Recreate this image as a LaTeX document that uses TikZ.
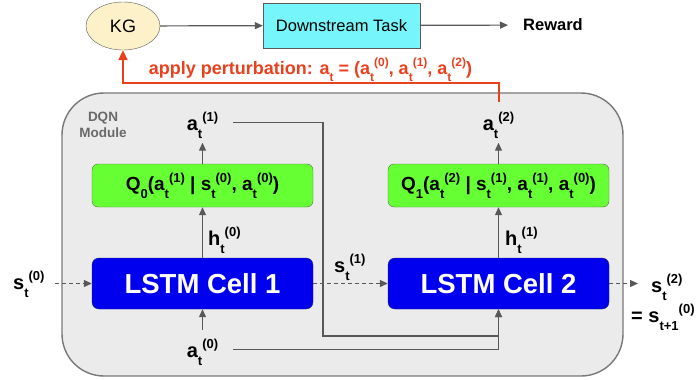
\documentclass[tikz,border=0pt]{standalone}
\usepackage{fontspec}
\setmainfont{Liberation Sans}
\usetikzlibrary{shapes.geometric,arrows.meta,positioning}

\definecolor{kgfill}{RGB}{252,241,200}
\definecolor{taskfill}{RGB}{118,246,250}
\definecolor{qfill}{RGB}{102,255,51}
\definecolor{qborder}{RGB}{85,110,75}
\definecolor{lstmfill}{RGB}{0,0,238}
\definecolor{lstmborder}{RGB}{30,30,110}
\definecolor{boxfill}{RGB}{235,235,235}
\definecolor{boxborder}{RGB}{120,120,120}
\definecolor{linegray}{RGB}{90,90,90}
\definecolor{arrowgray}{RGB}{88,88,88}
\definecolor{modulegray}{RGB}{105,105,105}
\definecolor{pertred}{RGB}{234,64,30}

\newcommand{\varlab}[4][13]{#2\raisebox{-0.42em}{\fontsize{#1}{#1}\selectfont #3}\raisebox{0.42em}{\fontsize{#1}{#1}\selectfont #4}}

\tikzstyle{kgnode} = [ellipse, minimum width=74pt, minimum height=48pt, text centered, draw=linegray, fill=kgfill, font=\fontsize{18}{20}\selectfont]
\tikzstyle{task} = [rectangle, minimum width=157pt, minimum height=45pt, text centered, draw=linegray, fill=taskfill, font=\fontsize{16.5}{20}\selectfont]
\tikzstyle{qbox} = [rectangle, rounded corners=6pt, minimum width=221pt, minimum height=43pt, text centered, draw=qborder, fill=qfill, font=\fontsize{19}{22}\selectfont\bfseries]
\tikzstyle{lstm} = [rectangle, rounded corners=7pt, minimum width=221pt, minimum height=51pt, text centered, draw=lstmborder, fill=lstmfill, text=white, font=\fontsize{27.5}{30}\selectfont\bfseries]
\tikzstyle{module} = [rectangle, rounded corners=42pt, minimum width=561pt, minimum height=283pt, draw=boxborder, line width=1.4pt, fill=boxfill]
\tikzstyle{lbl} = [inner sep=4pt, font=\fontsize{20}{22}\selectfont\bfseries]
\tikzstyle{arrow} = [line width=1.2pt, draw=arrowgray, ->, >={Triangle[length=8pt,width=7pt]}]
\tikzstyle{dasharrow} = [arrow, dash pattern=on 4pt off 3pt]
\tikzstyle{perturb} = [line width=2pt, draw=pertred, ->, >={Triangle[length=10pt,width=9pt]}]

\begin{document}
\begin{tikzpicture}[x=1pt, y=-1pt]
	\useasboundingbox (0,0) rectangle (697,380);
	\node (dqn) [module] at (342.5,234.5) {};
	\node (dqnlabel) [font=\fontsize{13.5}{16}\selectfont\bfseries, text=modulegray, align=center] at (103,125) {DQN\\Module};
	\node (kg) [kgnode] at (123,26) {KG};
	\node (task) [task] at (341.5,25.5) {Downstream Task};
	\node (reward) [font=\fontsize{16.5}{20}\selectfont\bfseries, inner xsep=15pt] at (553,25) {Reward};
	\node (perturbation) [font=\fontsize{18}{20}\selectfont\bfseries, text=pertred, anchor=base] at (310.5,74) {apply perturbation: \varlab[12]{a}{t}{} = (\varlab[12]{a}{t}{(0)}, \varlab[12]{a}{t}{(1)}, \varlab[12]{a}{t}{(2)})};
	\node (q0) [qbox] at (202.5,185.5) {\varlab{Q}{0}{}(\varlab{a}{t}{(1)} | \varlab{s}{t}{(0)}, \varlab{a}{t}{(0)})};
	\node (q1) [qbox] at (498.5,185.5) {\varlab{Q}{1}{}(\varlab{a}{t}{(2)} | \varlab{s}{t}{(1)}, \varlab{a}{t}{(1)}, \varlab{a}{t}{(0)})};
	\node (lstm1) [lstm] at (202.5,283.5) {LSTM Cell 1};
	\node (lstm2) [lstm] at (498.5,283.5) {LSTM Cell 2};
	\node (a1) [lbl, anchor=base] at (202.5,130) {\varlab{a}{t}{(1)}};
	\node (a2) [lbl, anchor=base] at (498.5,130) {\varlab{a}{t}{(2)}};
	\node (a0) [lbl, anchor=base] at (202.5,357) {\varlab{a}{t}{(0)}};
	\node (h0) [lbl, anchor=base west] at (204,245) {\varlab{h}{t}{(0)}};
	\node (h1) [lbl, anchor=base west] at (501,245) {\varlab{h}{t}{(1)}};
	\node (s0) [lbl, anchor=base west] at (9,289) {\varlab{s}{t}{(0)}};
	\node (s1) [lbl, anchor=base west] at (330,272) {\varlab{s}{t}{(1)}};
	\node (s2) [lbl, anchor=base west] at (647,292) {\varlab{s}{t}{(2)}};
	\node (s2next) [lbl, anchor=base west] at (627,322) {= \varlab{s}{t+1}{(0)}};
	\coordinate (turn) at (123,83);
	\coordinate (jog) at (323,336);

	\draw [arrow] (kg) -- (task);
	\draw [arrow] (task) -- (reward);
	\draw [perturb] ([yshift=6pt]a2.north) |- (turn) -- (kg.south);
	\draw [arrow] (q0) -- (a1);
	\draw [arrow] (q1) -- (a2);
	\draw [arrow] (lstm1) -- (q0);
	\draw [arrow] (lstm2) -- (q1);
	\draw [arrow] ([yshift=5pt]a0.north) -- (lstm1.south);
	\draw [arrow] ([xshift=11pt,yshift=3pt]a1.east) -| (jog) -| (lstm2.south);
	\draw [arrow] ([xshift=11pt,yshift=3pt]a0.east) -| (lstm2.south);
	\draw [dasharrow, shorten <=6pt] (s0.east |- lstm1) -- (lstm1);
	\draw [dasharrow] (lstm1) -- (lstm2);
	\draw [dasharrow, shorten >=9pt] (lstm2) -- (lstm2 -| s2.west);
\end{tikzpicture}
\end{document}
